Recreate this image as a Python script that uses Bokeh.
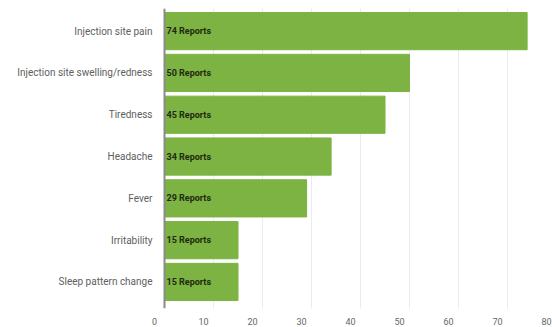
from bokeh.plotting import figure
from bokeh.models import Range1d, LinearAxis, FixedTicker, Grid, ColumnDataSource
from bokeh.core.properties import value
from bokeh.embed import file_html
from bokeh.resources import INLINE

categories = ["Injection site pain", "Injection site swelling/redness", "Tiredness",
              "Headache", "Fever", "Irritability", "Sleep pattern change"]
reports = [74, 50, 45, 34, 29, 15, 15]
bar_labels = [f"{r} Reports" for r in reports]
x_ticks = [0, 10, 20, 30, 40, 50, 60, 70, 80]

n = len(categories)
ys = [n - 1 - i for i in range(n)]

src = ColumnDataSource(dict(y=ys, right=reports, label=bar_labels, cat=categories))

FONT = "Roboto"

p = figure(width=552, height=327, output_backend="svg", toolbar_location=None,
           x_range=Range1d(-33.47, 79.18), y_range=Range1d(-0.635, 6.541),
           x_axis_location=None, y_axis_location=None,
           min_border_left=0, min_border_right=0, min_border_top=8, min_border_bottom=0)
p.outline_line_color = None
p.background_fill_color = "white"
p.border_fill_color = "white"
p.center = []

# vertical grid lines
grid = Grid(dimension=0, ticker=FixedTicker(ticks=x_ticks[1:]),
            grid_line_color="#ebebeb", grid_line_width=1)
p.add_layout(grid)

p.hbar(y="y", left=0, right="right", height=0.89, source=src,
       fill_color="#7cb342", line_color="#7cb342")

p.text(x=0, y="y", text="label", source=src, x_offset=2,
       text_font=value(FONT), text_font_size="9px", text_font_style="bold",
       text_color="#1e2a10", text_baseline="middle", text_align="left")

# y axis fixed at x = 0
yaxis = LinearAxis(ticker=FixedTicker(ticks=ys),
                   major_label_overrides={y: c for y, c in zip(ys, categories)},
                   fixed_location=0,
                   axis_line_color="#8a8a8a", axis_line_width=2,
                   major_tick_line_color=None, minor_tick_line_color=None,
                   major_label_standoff=6,
                   major_label_text_font=FONT, major_label_text_font_size="10px",
                   major_label_text_color="#606060")
p.add_layout(yaxis, "left")

# bottom tick labels
p.extra_x_ranges = {"lbl": Range1d(-31.43, 81.22)}
xaxis = LinearAxis(x_range_name="lbl", ticker=FixedTicker(ticks=x_ticks),
                   axis_line_color=None, major_tick_line_color=None,
                   minor_tick_line_color=None, major_label_standoff=3,
                   major_label_text_font=FONT, major_label_text_font_size="9px",
                   major_label_text_color="#666666")
p.add_layout(xaxis, "below")

open("out.html", "w").write(file_html(p, INLINE))
